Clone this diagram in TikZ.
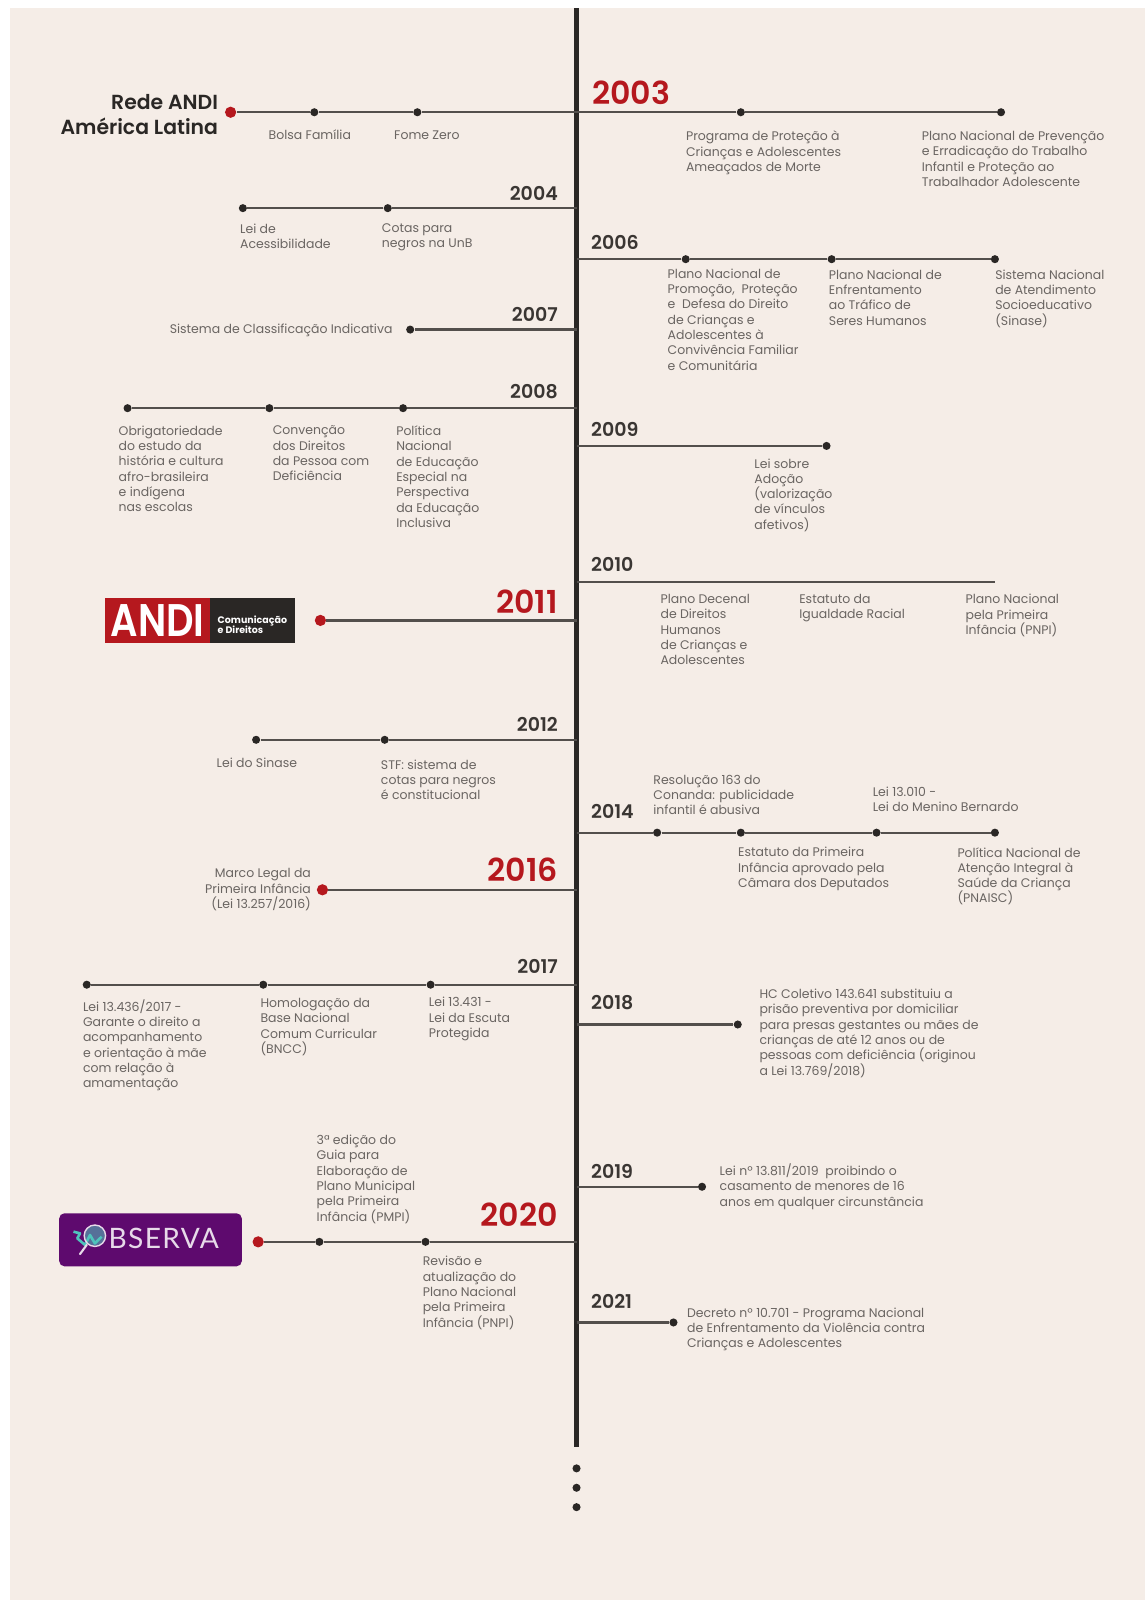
\documentclass[tikz,border=0pt]{standalone}
\usepackage{fontspec}
\setmainfont{Poppins}
\newfontfamily\semib{Poppins SemiBold}
\newfontfamily\logofont[LetterSpace=5]{Lato}
\definecolor{paper}{HTML}{F5EDE7}
\definecolor{ink}{HTML}{2A2725}
\definecolor{txt}{HTML}{6A6562}
\definecolor{yearink}{HTML}{3A3633}
\definecolor{brand}{HTML}{B5181E}
\definecolor{purp}{HTML}{5E0A6E}
\definecolor{teal}{HTML}{4FC4BC}
\tikzset{
  dotm/.style={circle,fill=ink,inner sep=0pt,minimum size=4.6pt},
  reddot/.style={circle,fill=brand,inner sep=0pt,minimum size=6.4pt},
  branch/.style={draw=ink!80!paper,line width=1.25pt},
  spine/.style={draw=ink,line width=2.9pt},
  desc/.style={anchor=north west,align=left,inner sep=0pt,text=txt,font=\fontsize{7.1}{8.71}\selectfont,execute at begin node={\rule{0pt}{7.2pt}}},
  descr/.style={desc,anchor=north east,align=right},
  yearl/.style={anchor=east,inner sep=0pt,text=yearink,font=\semib\fontsize{10.8}{12}\selectfont},
  yearr/.style={yearl,anchor=west},
  bigl/.style={anchor=east,inner sep=0pt,text=brand,font=\semib\fontsize{18}{20}\selectfont},
  bigr/.style={bigl,anchor=west},
}
\begin{document}
\begin{tikzpicture}[x=0.020408cm,y=-0.020408cm]
\useasboundingbox (0,0) rectangle (1122,1568);
\fill[white] (0,0) rectangle (1122,1568);
\fill[paper] (10,8) rectangle (1122,1568);

% spine
\coordinate (top) at (565,8);
\coordinate (bot) at (565,1418);
\draw[spine] (top) -- (bot);
\node[dotm] (more1) at (565,1439) {};
\node[dotm] (more2) at (565,1458) {};
\node[dotm] (more3) at (565,1477) {};

% 2003
\node[reddot] (r03) at (226,110) {};
\node[dotm] (a03) at (308,110) {};
\node[dotm] (b03) at (409,110) {};
\node[dotm] (c03) at (726,110) {};
\node[dotm] (d03) at (981,110) {};
\draw[branch] (r03) -- (a03) -- (b03) -- (c03) -- (d03);
\node[anchor=north east,align=right,inner sep=0pt,text=ink,font=\semib\fontsize{11.6}{14.2}\selectfont] (rede) at (214,92) {Rede ANDI\\América Latina};
\node[bigr] (y03) at (580,91) {2003};
\node[desc] (t03a) at (263,124) {Bolsa Família};
\node[desc] (t03b) at (386,124) {Fome Zero};
\node[desc] (t03c) at (672,128) {Programa de Proteção à\\Crianças e Adolescentes\\Ameaçados de Morte};
\node[desc] (t03d) at (903,128) {Plano Nacional de Prevenção\\e Erradicação do Trabalho\\Infantil e Proteção ao\\Trabalhador Adolescente};

% 2004
\coordinate (s04) at (565,204);
\node[dotm] (a04) at (238,204) {};
\node[dotm] (b04) at (380,204) {};
\draw[branch] (s04) -- (b04) -- (a04);
\node[yearl] (y04) at (547,190) {2004};
\node[desc] (t04a) at (235,219) {Lei de\\Acessibilidade};
\node[desc] (t04b) at (374,219) {Cotas para\\negros na UnB};

% 2006
\coordinate (s06) at (565,254);
\node[dotm] (a06) at (672,254) {};
\node[dotm] (b06) at (815,254) {};
\node[dotm] (c06) at (975,254) {};
\draw[branch] (s06) -- (a06) -- (b06) -- (c06);
\node[yearr] (y06) at (579,238) {2006};
\node[desc] (t06a) at (654,263) {Plano Nacional de\\Promoção,\ \ Proteção\\e\ \ Defesa do Direito\\de Crianças e\\Adolescentes à\\Convivência Familiar\\e Comunitária};
\node[desc] (t06b) at (812,264) {Plano Nacional de\\Enfrentamento\\ao Tráfico de\\Seres Humanos};
\node[desc] (t06c) at (975,264) {Sistema Nacional\\de Atendimento\\Socioeducativo\\(Sinase)};

% 2007
\coordinate (s07) at (565,323);
\node[dotm] (a07) at (402,323) {};
\draw[branch] (s07) -- (a07);
\node[yearl] (y07) at (547,308) {2007};
\node[descr] (t07) at (385,314) {Sistema de Classificação Indicativa};

% 2008
\coordinate (s08) at (565,400);
\node[dotm] (a08) at (125,400) {};
\node[dotm] (b08) at (264,400) {};
\node[dotm] (c08) at (395,400) {};
\draw[branch] (s08) -- (c08) -- (b08) -- (a08);
\node[yearl] (y08) at (547,384) {2008};
\node[desc] (t08a) at (116,417) {Obrigatoriedade\\do estudo da\\história e cultura\\afro-brasileira\\e indígena\\nas escolas};
\node[desc] (t08b) at (267,417) {Convenção\\dos Direitos\\da Pessoa com\\Deficiência};
\node[desc] (t08c) at (388,417) {Política\\Nacional\\de Educação\\Especial na\\Perspectiva\\da Educação\\Inclusiva};

% 2009
\coordinate (s09) at (565,437);
\node[dotm] (a09) at (810,437) {};
\draw[branch] (s09) -- (a09);
\node[yearr] (y09) at (579,421) {2009};
\node[desc] (t09) at (739,449) {Lei sobre\\Adoção\\(valorização\\de vínculos\\afetivos)};

% 2010
\coordinate (s10) at (565,570);
\coordinate (e10) at (975,570);
\draw[branch] (s10) -- (e10);
\node[yearr] (y10) at (579,553) {2010};
\node[desc] (t10a) at (647,582) {Plano Decenal\\de Direitos\\Humanos\\de Crianças e\\Adolescentes};
\node[desc] (t10b) at (783,582) {Estatuto da\\Igualdade Racial};
\node[desc] (t10c) at (946,582) {Plano Nacional\\pela Primeira\\Infância (PNPI)};

% 2011
\coordinate (s11) at (565,608);
\node[reddot] (r11) at (314,608) {};
\draw[branch] (s11) -- (r11);
\node[bigl] (y11) at (547,590) {2011};
\fill[brand] (103,586) rectangle (206,630);
\fill[ink] (206,586) rectangle (289,630);
\node[inner sep=0pt,text=white,font=\semib\fontsize{26}{26}\selectfont] (logoa) at (154.5,608) {\scalebox{0.84}[1]{ANDI}};
\node[anchor=west,align=left,inner sep=0pt,text=white,font=\fontsize{5.4}{5.8}\selectfont\bfseries] (logob) at (213,612) {Comunicação\\e Direitos};

% 2012
\coordinate (s12) at (565,725);
\node[dotm] (a12) at (251,725) {};
\node[dotm] (b12) at (377,725) {};
\draw[branch] (s12) -- (b12) -- (a12);
\node[yearl] (y12) at (547,710) {2012};
\node[desc] (t12a) at (212,739) {Lei do Sinase};
\node[desc] (t12b) at (373,744) {STF: sistema de\\cotas para negros\\é constitucional};

% 2014
\coordinate (s14) at (565,816);
\node[dotm] (a14) at (644,816) {};
\node[dotm] (b14) at (726,816) {};
\node[dotm] (c14) at (859,816) {};
\node[dotm] (d14) at (975,816) {};
\draw[branch] (s14) -- (a14) -- (b14) -- (c14) -- (d14);
\node[yearr] (y14) at (579,795) {2014};
\node[desc] (t14a) at (640,759) {Resolução 163 do\\Conanda: publicidade\\infantil é abusiva};
\node[desc] (t14b) at (855,771) {Lei 13.010 -\\Lei do Menino Bernardo};
\node[desc] (t14c) at (723,830) {Estatuto da Primeira\\Infância aprovado pela\\Câmara dos Deputados};
\node[desc] (t14d) at (938,830) {Política Nacional de\\Atenção Integral à\\Saúde da Criança\\(PNAISC)};

% 2016
\coordinate (s16) at (565,872);
\node[reddot] (r16) at (316,872) {};
\draw[branch] (s16) -- (r16);
\node[bigl] (y16) at (547,852) {2016};
\node[descr] (t16) at (305,851) {Marco Legal da\\Primeira Infância\\(Lei 13.257/2016)};

% 2017
\coordinate (s17) at (565,965);
\node[dotm] (a17) at (85,965) {};
\node[dotm] (b17) at (258,965) {};
\node[dotm] (c17) at (422,965) {};
\draw[branch] (s17) -- (c17) -- (b17) -- (a17);
\node[yearl] (y17) at (547,947) {2017};
\node[desc] (t17a) at (81,979) {Lei 13.436/2017 -\\Garante o direito a\\acompanhamento\\e orientação à mãe\\com relação à\\amamentação};
\node[desc] (t17b) at (255,978) {Homologação da\\Base Nacional\\Comum Curricular\\(BNCC)};
\node[desc] (t17c) at (420,977) {Lei 13.431 -\\Lei da Escuta\\Protegida};

% 2018
\coordinate (s18) at (565,1004);
\node[dotm] (a18) at (723,1004) {};
\draw[branch] (s18) -- (a18);
\node[yearr] (y18) at (579,983) {2018};
\node[desc] (t18) at (744,969) {HC Coletivo 143.641 substituiu a\\prisão preventiva por domiciliar\\para presas gestantes ou mães de\\crianças de até 12 anos ou de\\pessoas com deficiência (originou\\a Lei 13.769/2018)};

% 2019
\coordinate (s19) at (565,1163);
\node[dotm] (a19) at (688,1163) {};
\draw[branch] (s19) -- (a19);
\node[yearr] (y19) at (579,1148) {2019};
\node[desc] (t19) at (705,1140) {Lei nº 13.811/2019\ \ proibindo o\\casamento de menores de 16\\anos em qualquer circunstância};

% 2020
\coordinate (s20) at (565,1217);
\node[reddot] (r20) at (253,1217) {};
\node[dotm] (a20) at (313,1217) {};
\node[dotm] (b20) at (417,1217) {};
\draw[branch] (s20) -- (b20) -- (a20) -- (r20);
\node[bigl] (y20) at (547,1190) {2020};
\node[desc] (t20a) at (310,1112) {3ª edição do\\Guia para\\Elaboração de\\Plano Municipal\\pela Primeira\\Infância (PMPI)};
\node[desc] (t20b) at (414,1231) {Revisão e\\atualização do\\Plano Nacional\\pela Primeira\\Infância (PNPI)};
\fill[purp,rounded corners=3pt] (58,1189) rectangle (237,1241);
\fill[teal!55!purp] (93,1211) circle (10);
\draw[teal,line width=1.5pt,line join=round] (72,1207) -- (78.4,1208.7) -- (75.8,1213.6) -- (83.3,1220) -- (88.2,1210.3) -- (93,1218.5) -- (99.6,1212);
\draw[white!85!purp,line width=1.2pt,line cap=round] (85,1220) -- (78.4,1229);
\draw[white!85!purp,line width=0.8pt] (93,1211) circle (10.5);
\node[anchor=west,inner sep=0pt,text=white!85!purp,font=\logofont\fontsize{16}{18}\selectfont] (logoc) at (106,1214) {BSERVA};

% 2021
\coordinate (s21) at (565,1296);
\node[dotm] (a21) at (660,1296) {};
\draw[branch] (s21) -- (a21);
\node[yearr] (y21) at (579,1275) {2021};
\node[desc] (t21) at (673,1281) {Decreto nº 10.701 - Programa Nacional\\de Enfrentamento da Violência contra\\Crianças e Adolescentes};
\end{tikzpicture}
\end{document}
